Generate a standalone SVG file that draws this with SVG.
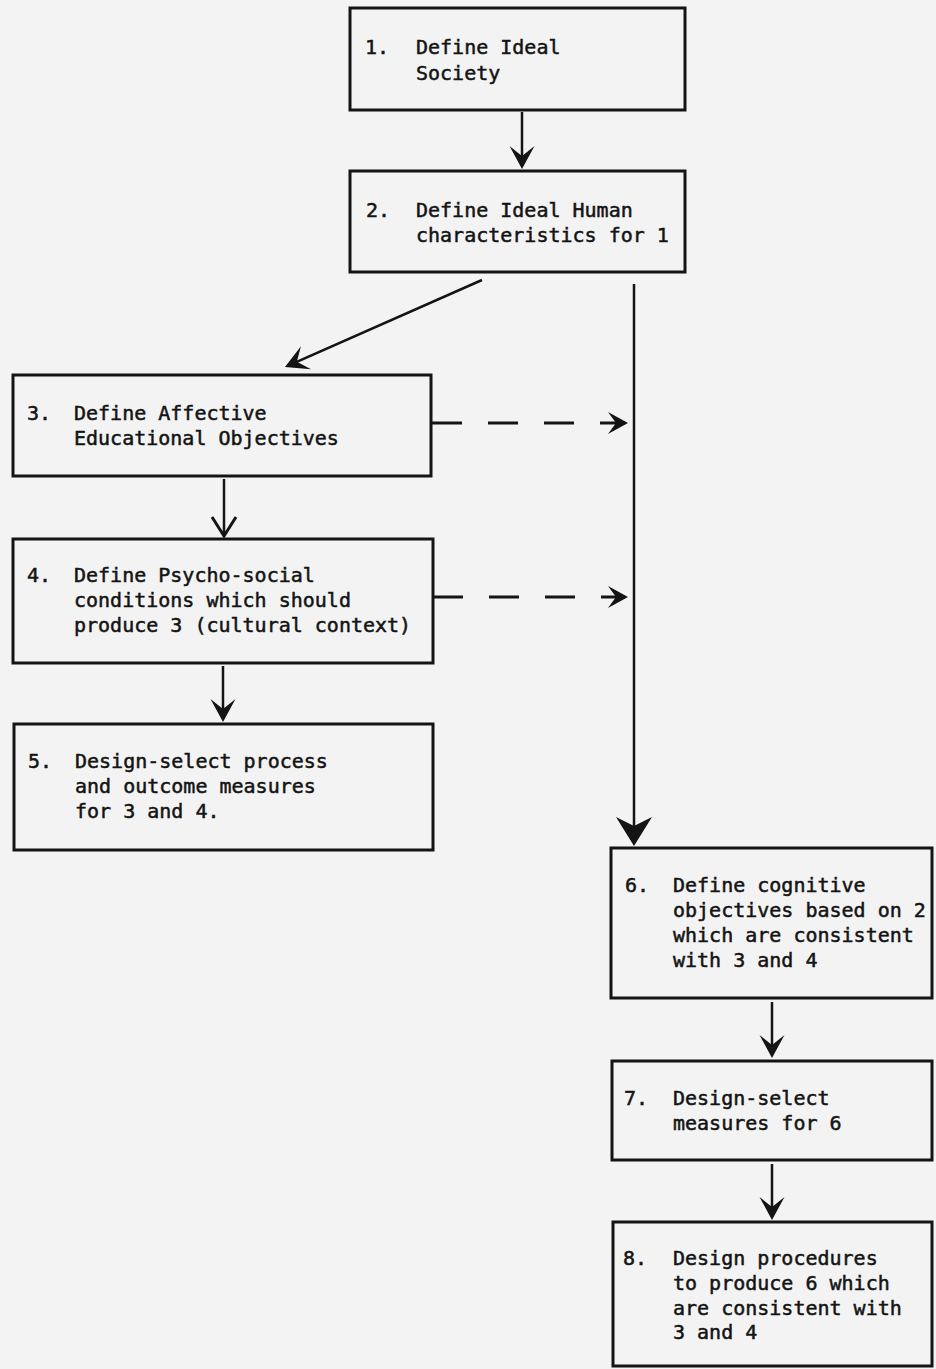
<svg xmlns="http://www.w3.org/2000/svg" width="936" height="1369" viewBox="0 0 936 1369">
<style>
.box{fill:none;stroke:#141414;stroke-width:3}
.t{font-family:"DejaVu Sans Mono","Liberation Mono",monospace;font-size:20px;fill:#141414;stroke:#141414;stroke-width:0.5}
.c{fill:none;stroke:#141414;stroke-width:2.5}
.d{fill:none;stroke:#141414;stroke-width:3;stroke-dasharray:30 26}
</style>
<defs>
<marker id="head" markerUnits="userSpaceOnUse" viewBox="-30 -20 34 40" refX="-3" refY="0" markerWidth="34" markerHeight="40" orient="auto">
<path d="M0,0 L-23,-12.5 L-13,0 L-23,12.5 Z" fill="#141414"/>
</marker>
<marker id="headL" markerUnits="userSpaceOnUse" viewBox="-36 -22 40 44" refX="-3" refY="0" markerWidth="40" markerHeight="44" orient="auto">
<path d="M0,0 L-29,-18 L-20,0 L-29,18 Z" fill="#141414"/>
</marker>
<marker id="headS" markerUnits="userSpaceOnUse" viewBox="-26 -16 30 32" refX="-3" refY="0" markerWidth="30" markerHeight="32" orient="auto">
<path d="M0,0 L-20,-11 L-12,0 L-20,11 Z" fill="#141414"/>
</marker>
<marker id="headV" markerUnits="userSpaceOnUse" viewBox="-26 -16 30 32" refX="-1" refY="0" markerWidth="30" markerHeight="32" orient="auto">
<path d="M-19,-12 L0,0 L-19,12" fill="none" stroke="#141414" stroke-width="3"/>
</marker>
</defs>
<rect x="0" y="0" width="936" height="1369" fill="#f3f3f3"/>

<g id="connectors">
<line class="c" x1="522" y1="112" x2="522" y2="166" marker-end="url(#head)"/>
<line class="c" x1="482" y1="280" x2="287.7" y2="365.8" marker-end="url(#head)"/>
<line class="c" x1="634" y1="284" x2="634" y2="843" marker-end="url(#headL)"/>
<line class="c" x1="224" y1="479" x2="224" y2="535" marker-end="url(#headV)"/>
<line class="c" x1="223" y1="666" x2="223" y2="719" marker-end="url(#head)"/>
<line class="c" x1="772" y1="1002" x2="772" y2="1055" marker-end="url(#head)"/>
<line class="c" x1="772" y1="1164" x2="772" y2="1217" marker-end="url(#head)"/>
<line class="d" x1="432" y1="423" x2="625" y2="423" marker-end="url(#headS)"/>
<line class="d" x1="433" y1="597" x2="625" y2="597" marker-end="url(#headS)"/>
</g>

<g id="node1">
<rect class="box" x="350" y="8" width="335" height="102"/>
<text class="t" x="365" y="54">1.</text>
<text class="t" x="416" y="54">Define Ideal</text>
<text class="t" x="416" y="80">Society</text>
</g>

<g id="node2">
<rect class="box" x="350" y="171" width="335" height="101"/>
<text class="t" x="366" y="217">2.</text>
<text class="t" x="416" y="217">Define Ideal Human</text>
<text class="t" x="416" y="242">characteristics for 1</text>
</g>

<g id="node3">
<rect class="box" x="13" y="375" width="418" height="101"/>
<text class="t" x="27" y="420">3.</text>
<text class="t" x="74" y="420">Define Affective</text>
<text class="t" x="74" y="445">Educational Objectives</text>
</g>

<g id="node4">
<rect class="box" x="13" y="539" width="420" height="124"/>
<text class="t" x="27" y="582">4.</text>
<text class="t" x="74" y="582">Define Psycho-social</text>
<text class="t" x="74" y="607">conditions which should</text>
<text class="t" x="74" y="632">produce 3 (cultural context)</text>
</g>

<g id="node5">
<rect class="box" x="14" y="724" width="419" height="126"/>
<text class="t" x="28" y="768">5.</text>
<text class="t" x="75" y="768">Design-select process</text>
<text class="t" x="75" y="793">and outcome measures</text>
<text class="t" x="75" y="818">for 3 and 4.</text>
</g>

<g id="node6">
<rect class="box" x="611" y="848" width="321" height="150"/>
<text class="t" x="625" y="892">6.</text>
<text class="t" x="673" y="892">Define cognitive</text>
<text class="t" x="673" y="917">objectives based on 2</text>
<text class="t" x="673" y="942">which are consistent</text>
<text class="t" x="673" y="967">with 3 and 4</text>
</g>

<g id="node7">
<rect class="box" x="612" y="1061" width="320" height="99"/>
<text class="t" x="624" y="1105">7.</text>
<text class="t" x="673" y="1105">Design-select</text>
<text class="t" x="673" y="1130">measures for 6</text>
</g>

<g id="node8">
<rect class="box" x="613" y="1222" width="319" height="144"/>
<text class="t" x="623" y="1265">8.</text>
<text class="t" x="673" y="1265">Design procedures</text>
<text class="t" x="673" y="1290">to produce 6 which</text>
<text class="t" x="673" y="1315">are consistent with</text>
<text class="t" x="673" y="1339">3 and 4</text>
</g>
</svg>
